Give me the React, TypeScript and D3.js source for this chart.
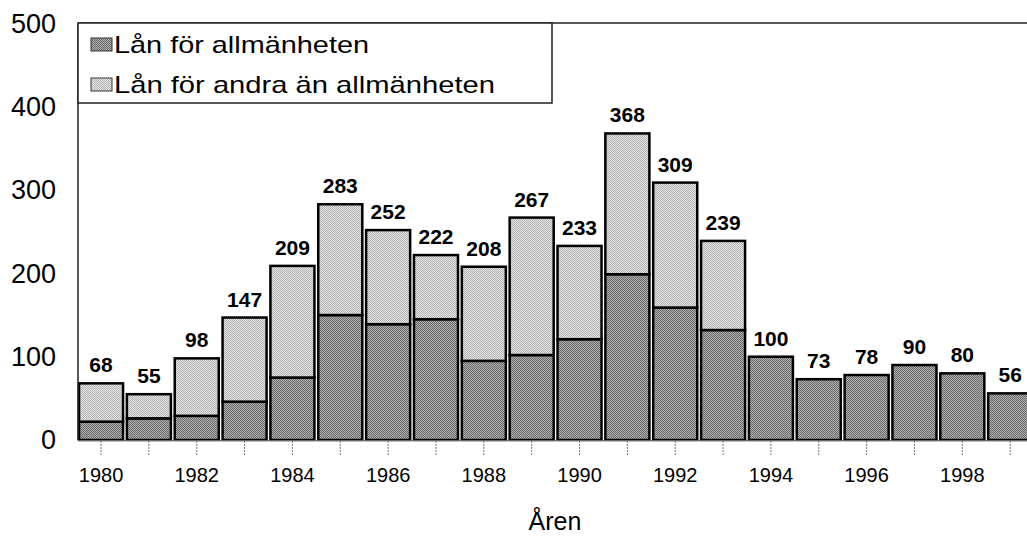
import * as d3 from 'd3'
import React, { useEffect, useRef } from 'react'

const years = ['1980', '1981', '1982', '1983', '1984', '1985', '1986', '1987', '1988', '1989',
    '1990', '1991', '1992', '1993', '1994', '1995', '1996', '1997', '1998', '1999']
// lån för allmänheten (bottom segment)
const allman = [22, 26, 29, 46, 75, 150, 139, 145, 95, 102, 121, 199, 159, 132, 100, 73, 78, 90, 80, 56]
// lån för andra än allmänheten (top segment)
const andra = [46, 29, 69, 101, 134, 133, 113, 77, 113, 165, 112, 169, 150, 107, 0, 0, 0, 0, 0, 0]
const totals = [68, 55, 98, 147, 209, 283, 252, 222, 208, 267, 233, 368, 309, 239, 100, 73, 78, 90, 80, 56]
const yTicks = [0, 100, 200, 300, 400, 500]
const legendLabels = ['Lån för allmänheten', 'Lån för andra än allmänheten']

const App = (): JSX.Element => {
    const ref = useRef<SVGSVGElement>(null)
    const width = 1027
    const height = 538
    const font = 'Liberation Sans, Arial, Helvetica, sans-serif'

    useEffect(() => {
        const svg = d3.select(ref.current)
        svg.selectAll('*').remove()

        const xScale = d3.scaleBand().domain(years).range([75.2, 1036]).padding(0.08)
        const yScale = d3.scaleLinear().domain([0, 500]).range([440, 23.5])

        // halftone-ish fills
        const defs = svg.append('defs')
        const makePattern = (id: string, a: string, b: string) => {
            const p = defs.append('pattern').attr('id', id).attr('width', 2).attr('height', 2)
                .attr('patternUnits', 'userSpaceOnUse')
            p.append('rect').attr('width', 2).attr('height', 2).attr('fill', a)
            p.append('rect').attr('width', 1).attr('height', 1).attr('fill', b)
            p.append('rect').attr('x', 1).attr('y', 1).attr('width', 1).attr('height', 1).attr('fill', b)
        }
        makePattern('dark', '#b0b0b0', '#6a6a6a')
        makePattern('light', '#e6e6e6', '#b2b2b2')

        // bars
        const g = svg.append('g')
        years.forEach((yr, i) => {
            const x = xScale(yr) as number
            const bw = xScale.bandwidth()
            g.append('rect')
                .attr('x', x).attr('width', bw)
                .attr('y', yScale(allman[i])).attr('height', yScale(0) - yScale(allman[i]))
                .attr('fill', 'url(#dark)').attr('stroke', '#000').attr('stroke-width', 2.5)
            if (andra[i] > 0) {
                g.append('rect')
                    .attr('x', x).attr('width', bw)
                    .attr('y', yScale(allman[i] + andra[i]))
                    .attr('height', yScale(allman[i]) - yScale(allman[i] + andra[i]))
                    .attr('fill', 'url(#light)').attr('stroke', '#000').attr('stroke-width', 2.5)
            }
            g.append('text')
                .attr('x', x + bw / 2).attr('y', yScale(totals[i]) - 11)
                .attr('text-anchor', 'middle')
                .attr('font-family', font).attr('font-weight', 'bold').attr('font-size', 21)
                .text(totals[i])
        })

        // frame
        svg.append('line').attr('x1', 78).attr('x2', width).attr('y1', 23).attr('y2', 23)
            .attr('stroke', '#222').attr('stroke-width', 1.5)
        svg.append('line').attr('x1', 78).attr('x2', 78).attr('y1', 23).attr('y2', 440)
            .attr('stroke', '#222').attr('stroke-width', 1.5)
        svg.append('line').attr('x1', 78).attr('x2', width).attr('y1', 440.5).attr('y2', 440.5)
            .attr('stroke', '#666').attr('stroke-width', 1)

        // x axis
        const xAxis = d3.axisBottom(xScale)
            .tickSize(14)
            .tickFormat((d) => (+d % 2 === 0 ? d : ''))
        const xg = svg.append('g').attr('transform', 'translate(0,441)').call(xAxis)
        xg.select('.domain').remove()
        xg.selectAll('.tick line').attr('stroke', '#777').attr('stroke-dasharray', '2,1')
        xg.selectAll('.tick text')
            .attr('font-family', font).attr('font-size', 20).attr('fill', '#000')
            .attr('y', 27).attr('dy', '0.71em')

        // y axis
        const yAxis = d3.axisLeft(yScale).tickValues(yTicks).tickSize(0).tickPadding(0)
        const yg = svg.append('g').attr('transform', 'translate(56,0)').call(yAxis)
        yg.select('.domain').remove()
        yg.selectAll('.tick text')
            .attr('font-family', font).attr('font-size', 27).attr('fill', '#000')

        // axis title
        svg.append('text').attr('x', 555).attr('y', 530).attr('text-anchor', 'middle')
            .attr('font-family', font).attr('font-size', 25).text('Åren')

        // legend
        const lg = svg.append('g')
        lg.append('rect').attr('x', 78).attr('y', 23).attr('width', 474).attr('height', 80)
            .attr('fill', '#fff').attr('stroke', '#222').attr('stroke-width', 1.5)
        const fills = ['url(#dark)', 'url(#light)']
        const lengths = [255, 381]
        legendLabels.forEach((lab, i) => {
            const base = 53 + i * 40
            lg.append('rect').attr('x', 91).attr('y', base - 15).attr('width', 21).attr('height', 13)
                .attr('fill', fills[i]).attr('stroke', '#333').attr('stroke-width', 1)
            lg.append('text').attr('x', 114).attr('y', base)
                .attr('font-family', font).attr('font-size', 24)
                .attr('textLength', lengths[i]).attr('lengthAdjust', 'spacingAndGlyphs')
                .text(lab)
        })
    }, [])

    return (
        <svg
            ref={ref}
            width={width}
            height={height}
            style={{ position: 'absolute', left: 0, top: 0, background: '#fff' }}
        />
    )
}

export default App
